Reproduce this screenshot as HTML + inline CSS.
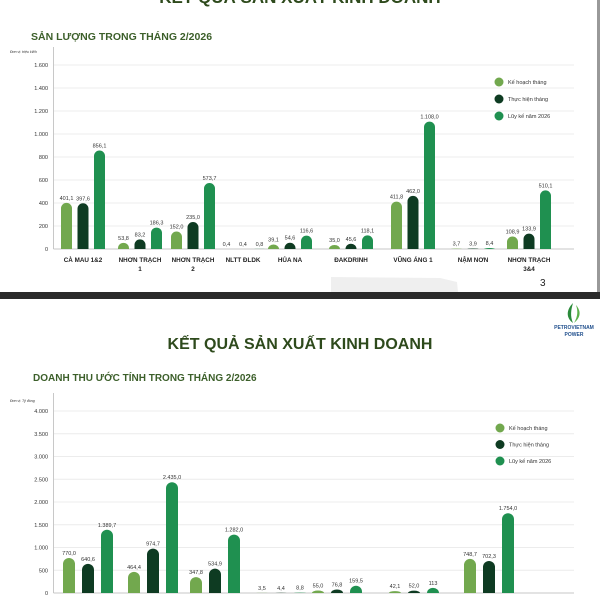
<!DOCTYPE html>
<html><head><meta charset="utf-8">
<style>
html,body{margin:0;padding:0;background:#fff;}
svg{display:block;font-family:"Liberation Sans","Noto Sans CJK SC",sans-serif;}
</style></head>
<body>
<svg id="c" width="600" height="600" viewBox="0 0 600 600" xmlns="http://www.w3.org/2000/svg">
<rect x="0" y="0" width="600" height="600" fill="#fff"/>
<text x="300" y="3" text-anchor="middle" font-size="17" font-weight="bold" fill="#2e4a1c">KẾT QUẢ SẢN XUẤT KINH DOANH</text>
<text x="31" y="40" font-size="10.5" font-weight="bold" fill="#3c5f2a">SẢN LƯỢNG TRONG THÁNG 2/2026</text>
<text x="10" y="53" font-size="3.5" font-style="italic" fill="#333">Đơn vị: triệu kWh</text>
<path d="M331 292 L331 277 L440 278 L457 282 L458 292Z" fill="#efefef"/>
<text x="540" y="286" font-size="10" fill="#222">3</text>
<rect x="597" y="0" width="3" height="292" fill="#999"/>
<rect x="0" y="292" width="600" height="7" fill="#2a2a2a"/>
<g>
<path d="M573 303 C566 310 566 318 573 323 C570 316 571 310 573 303Z" fill="#2a8a3a"/>
<path d="M576 305 C582 312 580 318 574 323 C578 316 578 311 576 305Z" fill="#5bb04a"/>
<text x="574" y="329" text-anchor="middle" font-size="5" font-weight="bold" fill="#1f4e8c">PETROVIETNAM</text>
<text x="574" y="336" text-anchor="middle" font-size="5" font-weight="bold" fill="#1f4e8c">POWER</text>
</g>
<text x="300" y="349" text-anchor="middle" font-size="16" font-weight="bold" fill="#2e4a1c">KẾT QUẢ SẢN XUẤT KINH DOANH</text>
<text x="33" y="381" font-size="10" font-weight="bold" fill="#3c5f2a">DOANH THU ƯỚC TÍNH TRONG THÁNG 2/2026</text>
<text x="10" y="402" font-size="3.5" font-style="italic" fill="#333">Đơn vị: Tỷ đồng</text>
<g id="top"></g>
<g id="bot"></g>
</svg>
<script>
const topCats = [["CÀ MAU 1&2"],["NHƠN TRẠCH","1"],["NHƠN TRẠCH","2"],["NLTT ĐLDK"],["HỦA NA"],["ĐAKDRINH"],["VŨNG ÁNG 1"],["NẬM NƠN"],["NHƠN TRẠCH","3&4"]];
const topPlan = [401.1,53.8,152.0,0.4,39.1,35.0,411.8,3.7,108.9];
const topActual = [397.6,83.2,235.0,0.4,54.6,45.6,462.0,3.9,133.9];
const topCum = [856.1,186.3,573.7,0.8,116.6,118.1,1108.0,8.4,510.1];
const topTicks = [0,200,400,600,800,1000,1200,1400,1600];
const botCats = ["","","","","","",""];
const botPlan = [770.0,464.4,347.8,3.5,55.0,42.1,748.7];
const botActual = [640.6,974.7,534.9,4.4,76.8,52.0,702.3];
const botCum = [1389.7,2435.0,1282.0,8.8,159.5,113,1754.0];
const botTicks = [0,500,1000,1500,2000,2500,3000,3500,4000];
const legendLabels = ["Kế hoạch tháng","Thực hiện tháng","Lũy kế năm 2026"];
const colors = ["#72a84e","#0e3b22","#1f9050"];
const NS="http://www.w3.org/2000/svg";
function mk(p,tag,attrs){const e=document.createElementNS(NS,tag);for(const k in attrs)e.setAttribute(k,attrs[k]);p.appendChild(e);return e;}
function fmt(v){const s=v.toFixed(1).split('.');const ip=s[0].replace(/\B(?=(\d{3})+(?!\d))/g,'.');return ip+','+s[1];}
function fmtTick(v){return v>=1000?Math.floor(v/1000)+"."+String(v%1000).padStart(3,"0"):String(v);}
function chart(g,cfg){
  const y=v=>cfg.y0-(v/cfg.max)*(cfg.y0-cfg.yTop);
  cfg.ticks.forEach(t=>{
    const l=mk(g,'line',{x1:54,x2:574,y1:y(t),y2:y(t),stroke:'#ececec','stroke-width':1});
    
    
    const tx=mk(g,'text',{x:48,y:y(t)+2,'text-anchor':'end','font-size':5.5,fill:'#333'});
    tx.textContent=fmtTick(t);
    
    
  });
  const ax=mk(g,'line',{x1:53.5,x2:53.5,y1:cfg.yTop-18,y2:cfg.y0,stroke:'#bbb','stroke-width':0.8});
  
  
  const bx=mk(g,'line',{x1:53.5,x2:574,y1:cfg.y0,y2:cfg.y0,stroke:'#bbb','stroke-width':0.8});
  
  
  const series=[cfg.plan,cfg.actual,cfg.cum];
  cfg.centers.forEach((c,i)=>{
    series.forEach((s,j)=>{
      const v=s[i];const w=cfg.bw;const x=c+(j-1)*cfg.gap-w/2;const top=y(v);const h=cfg.y0-top;
      const r=Math.min(w/2,h);
      const d=`M${x} ${cfg.y0} L${x} ${top+r} A${w/2} ${r} 0 0 1 ${x+w} ${top+r} L${x+w} ${cfg.y0}Z`;
      const b=mk(g,'path',{d:d,fill:colors[j]});
      
      
      const t=mk(g,'text',{x:c+(j-1)*cfg.gap,y:top-3,'text-anchor':'middle','font-size':5.5,fill:'#333'});
      t.textContent=(cfg.intLast&&j===2&&v===113)?"113":fmt(v);
      
      
    });
    const lab=cfg.cats[i];
    if(Array.isArray(lab)){lab.forEach((ln,k)=>{
      const t=mk(g,'text',{x:c,y:cfg.y0+13+k*9,'text-anchor':'middle','font-size':6.3,'font-weight':'bold',fill:'#222'});
      t.textContent=ln;
      
      
    });}
  });
  legendLabels.forEach((l,k)=>{
    const ly=cfg.legY+k*cfg.legStep;
    const ci=mk(g,'circle',{cx:cfg.legX,cy:ly,r:4.5,fill:colors[k]});
    
    
    const t=mk(g,'text',{x:cfg.legX+9,y:ly+2,'font-size':5.5,fill:'#333'});
    t.textContent=l;
    
    
  });
}
chart(document.getElementById('top'),{cats:topCats,plan:topPlan,actual:topActual,cum:topCum,ticks:topTicks,max:1600,y0:249,yTop:65,
  centers:[83,140,193,243,290,351,413,473,529],bw:11,gap:16.5,legX:499,legY:82,legStep:17});
chart(document.getElementById('bot'),{cats:botCats,plan:botPlan,actual:botActual,cum:botCum,ticks:botTicks,max:4000,y0:593,yTop:411,
  centers:[88,153,215,281,337,414,489],bw:12,gap:19,legX:500,legY:428,legStep:16.5,intLast:true});
</script>
</body></html>
